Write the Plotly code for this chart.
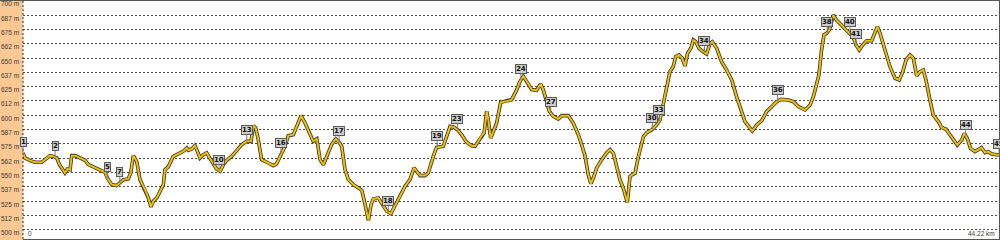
import plotly.graph_objects as go
import numpy as np

# ---- profile data (distance in km, elevation in m) ----
dist_km = [
    0.00, 0.09, 0.32, 0.54, 0.85, 1.00, 1.22, 1.37, 1.53, 1.65,
    1.80, 1.90, 2.01, 2.13, 2.21, 2.36, 2.58, 2.81, 2.96, 3.19,
    3.49, 3.72, 3.82, 4.02, 4.24, 4.39, 4.55, 4.77, 4.88, 5.00,
    5.15, 5.30, 5.53, 5.68, 5.80, 5.90, 6.06, 6.21, 6.36, 6.43,
    6.58, 6.81, 6.96, 7.11, 7.26, 7.42, 7.49, 7.64, 7.79, 7.90,
    8.02, 8.17, 8.32, 8.55, 8.77,
    8.93, 9.08, 9.23, 9.45, 9.68, 9.91, 10.13, 10.33, 10.44, 10.54,
    10.66, 10.81, 11.12, 11.34, 11.49, 11.64, 11.87, 12.02, 12.25, 12.40,
    12.60, 12.78, 13.00, 13.15, 13.31, 13.46, 13.61, 13.76, 13.98, 14.17,
    14.32, 14.44, 14.59, 14.74, 14.97, 15.20, 15.35, 15.50, 15.65, 15.77,
    15.87, 16.10, 16.25, 16.48, 16.67, 16.85, 17.08, 17.31, 17.53,
    17.72, 17.84, 17.99, 18.21, 18.36, 18.59, 18.74, 19.04, 19.19, 19.35,
    19.50, 19.68, 19.87, 20.10, 20.33, 20.48, 20.63, 20.78, 20.89, 21.01,
    21.08, 21.19, 21.31, 21.46, 21.64, 21.91, 22.14, 22.37, 22.52, 22.67,
    22.82, 23.05, 23.27, 23.45, 23.57, 23.72, 23.85, 24.03, 24.25, 24.41,
    24.71, 24.93, 25.16, 25.31, 25.46, 25.61, 25.73, 25.84, 25.99, 26.22,
    26.44, 26.60,
    26.75, 26.90, 27.05, 27.20, 27.38, 27.50, 27.58, 27.73, 27.88, 28.11,
    28.26, 28.48, 28.71, 28.86, 29.01, 29.16, 29.31, 29.46, 29.57, 29.72,
    29.87, 29.99, 30.11, 30.27, 30.37, 30.48, 30.63, 30.82, 30.97, 31.13,
    31.23, 31.43, 31.65, 31.88, 32.11, 32.33, 32.56, 32.71, 32.89, 33.04,
    33.24, 33.47, 33.69, 33.92, 34.15, 34.34, 34.68, 34.90, 35.13,
    35.43, 35.66, 35.81, 35.96, 36.06, 36.18, 36.29, 36.41, 36.53, 36.64,
    36.71, 36.86, 37.09, 37.32, 37.47, 37.62, 37.74, 37.89, 38.04, 38.22,
    38.45, 38.60, 38.71, 38.83, 39.06, 39.28, 39.51, 39.70, 39.86, 40.01,
    40.19, 40.34, 40.49, 40.64, 40.79, 40.91, 41.09, 41.24, 41.47, 41.62,
    41.82, 42.00, 42.18, 42.33, 42.53, 42.65, 42.78, 42.93, 43.13, 43.28,
    43.43, 43.59, 43.74, 43.89, 44.11, 44.22,
]
elev_m = [
    567.2, 562.8, 560.5, 559.0, 559.0, 561.3, 564.8, 564.2, 562.8, 557.0,
    552.6, 549.7, 553.2, 552.6, 564.8, 564.8, 562.8, 560.8, 557.0, 555.0,
    552.6, 550.3, 545.3, 539.5, 538.7, 541.0, 543.9, 544.5, 549.7, 564.8,
    559.9, 543.9, 535.2, 527.9, 520.1, 525.0, 527.9, 533.7, 539.5, 552.6,
    555.0, 564.2, 565.7, 567.7, 568.6, 571.5, 569.5, 570.6, 573.5, 568.6,
    562.8, 565.7, 567.2, 559.9, 553.2,
    551.2, 557.0, 560.8, 564.2, 569.2, 574.4, 577.3, 577.3, 591.0, 589.0,
    578.8, 561.3, 558.4, 556.1, 557.8, 564.2, 573.0, 582.3, 583.1, 590.4,
    599.7, 593.3, 584.6, 577.3, 579.4, 561.3, 556.9, 564.2, 574.4, 579.4,
    576.5, 573.0, 552.6, 543.9, 539.5, 536.6, 534.6, 522.1, 508.4, 522.1,
    527.0, 527.9, 523.6, 516.3, 514.3, 520.6, 529.4, 538.1, 543.9,
    554.1, 551.2, 547.4, 547.4, 549.7, 564.2, 572.1, 573.0, 581.7, 590.4,
    589.8, 587.5, 583.1, 576.5, 573.5, 573.0, 577.3, 582.3, 584.6, 603.5,
    596.2, 580.2, 586.0, 593.3, 611.3, 612.2, 613.7, 622.4, 629.7, 634.0,
    629.7, 622.4, 621.8, 627.3, 622.4, 612.2, 603.5, 599.1, 596.8, 599.7,
    599.7, 593.3, 583.1, 574.4, 564.8, 548.3, 540.4, 545.3, 554.1, 561.3,
    567.2, 570.1,
    566.9, 555.2, 543.6, 536.3, 524.0, 546.5, 548.0, 549.4, 564.0, 581.4,
    584.9, 587.2, 591.6, 595.9, 610.5, 625.0, 638.1, 642.4, 651.2, 652.6,
    649.7, 643.0, 654.1, 659.0, 665.7, 664.2, 658.4, 655.5, 653.5, 662.8,
    664.2, 658.4, 646.8, 639.5, 630.8, 616.3, 603.2, 594.5, 590.1, 586.3,
    591.6, 595.3, 603.2, 607.6, 611.9, 613.9, 613.4, 611.9, 607.6,
    604.7, 609.0, 616.3, 626.5, 635.2, 657.0, 670.1, 671.5, 674.4, 681.7,
    687.5, 683.1, 678.7, 673.8, 671.5, 668.0, 661.3, 657.0, 661.3, 665.1,
    665.1, 673.0, 677.3, 671.5, 657.0, 642.4, 632.3, 630.8, 638.1, 648.3,
    652.6, 649.7, 634.3, 638.1, 639.5, 630.8, 613.4, 600.3, 594.5, 589.5,
    587.8, 582.8, 578.5, 574.1, 578.5, 584.3, 579.9, 571.2, 568.3, 569.8,
    571.8, 567.4, 568.3, 566.3, 565.4, 565.4,
]

# ---- waypoint markers ----
wp_names = ["1", "2", "5", "7", "10", "13", "16", "17", "18", "19", "23",
            "24", "27", "30", "33", "34", "36", "38", "40", "41", "44", "45"]
wp_km = [0.00, 1.45, 3.82, 4.39, 8.88, 10.14, 11.69, 14.32, 16.55, 18.77, 19.68,
         22.56, 23.91, 28.51, 28.83, 30.87, 34.19, 36.44, 37.47, 37.74, 42.71, 44.22]

# ---- axis labels ----
y_tick_vals = [700, 687.5, 675, 662.5, 650, 637.5, 625, 612.5, 600,
               587.5, 575, 562.5, 550, 537.5, 525, 512.5, 500]
y_tick_text = ["700 m", "687 m", "675 m", "662 m", "650 m", "637 m", "625 m",
               "612 m", "600 m", "587 m", "575 m", "562 m", "550 m", "537 m",
               "525 m", "512 m", "500 m"]
x_label_vals = [0, 44.22]
x_label_text = ["0", "44.22 km"]

X_RANGE = [0, 44.22]
Y_RANGE = [492.1, 700.6]

fig = go.Figure()
fig.add_trace(go.Scatter(x=dist_km, y=elev_m, mode="lines",
                         line=dict(color="#333333", width=3.6), hoverinfo="skip",
                         showlegend=False))
fig.add_trace(go.Scatter(x=dist_km, y=elev_m, mode="lines",
                         line=dict(color="#f0c000", width=2), showlegend=False))

annotations = []
# y-axis labels in left strip
for v, t in zip(y_tick_vals, y_tick_text):
    annotations.append(dict(x=0, xref="paper", y=v, yref="y", text=t,
                            showarrow=False, xanchor="right", yanchor="middle",
                            xshift=-2, yshift=-3,
                            font=dict(family="Liberation Sans", size=6.5, color="#3a3a3a")))
# x labels at bottom
for v, t, anc, sh in zip(x_label_vals, x_label_text, ["left", "right"], [3, -2]):
    annotations.append(dict(x=v, xref="x", y=0, yref="paper", text=t,
                            showarrow=False, xanchor=anc, yanchor="bottom",
                            xshift=sh, yshift=0,
                            font=dict(family="Liberation Sans", size=6.5, color="#3a3a3a")))
# waypoint boxes
wp_elev = np.interp(wp_km, dist_km, elev_m)
for name, xk, ye in zip(wp_names, wp_km, wp_elev):
    annotations.append(dict(x=xk, y=float(ye), xref="x", yref="y",
                            text="<b>%s</b>" % name, showarrow=True,
                            arrowhead=0, arrowwidth=1, arrowcolor="#777777",
                            ax=0, ay=-11, standoff=0,
                            bgcolor="#cccccc", bordercolor="#5a5a5a",
                            borderwidth=1, borderpad=0,
                            font=dict(family="DejaVu Sans", size=7, color="#111111")))

shapes = [
    # orange left strip
    dict(type="rect", xref="paper", yref="paper", x0=-23 / 976, x1=0,
         y0=-0.01, y1=1.01, fillcolor="#f9c893", line=dict(width=0), layer="below"),
    # dotted left axis line
    dict(type="line", xref="paper", yref="paper", x0=0, x1=0, y0=0, y1=1,
         line=dict(color="#333333", width=1, dash="2px,2px")),
    # top border
    dict(type="line", xref="paper", yref="paper", x0=-0.03, x1=1.01, y0=1, y1=1,
         line=dict(color="#555555", width=2)),
]

fig.update_layout(
    width=1000, height=240,
    margin=dict(l=23, r=1, t=0, b=1),
    paper_bgcolor="#555555",
    plot_bgcolor="#ffffff",
    xaxis=dict(range=X_RANGE, showgrid=False, zeroline=False,
               showticklabels=False, ticks="", fixedrange=True),
    yaxis=dict(range=Y_RANGE, tickvals=y_tick_vals, showticklabels=False,
               showgrid=True, gridcolor="#4a4a4a", gridwidth=1, griddash="2px,2px",
               zeroline=False, ticks="", fixedrange=True),
    annotations=annotations,
    shapes=shapes,
    showlegend=False,
)

fig.write_html("out.html")
